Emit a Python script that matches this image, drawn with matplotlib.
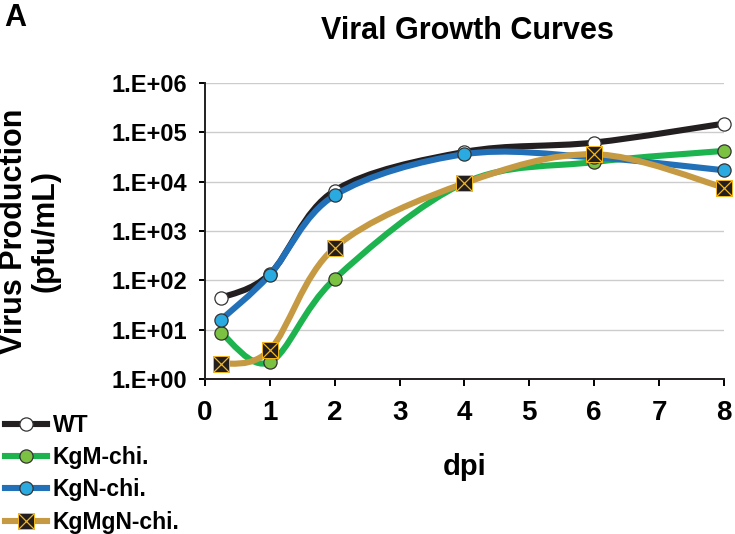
import numpy as np
import matplotlib
matplotlib.use('Agg')
import matplotlib.pyplot as plt
from matplotlib.path import Path
from matplotlib.patches import PathPatch
from matplotlib.lines import Line2D
from matplotlib.legend_handler import HandlerTuple
from matplotlib.ticker import FixedLocator, FuncFormatter

plt.rcParams['font.family'] = ['Liberation Sans', 'DejaVu Sans']
plt.rcParams['font.weight'] = 'bold'

# data (pfu/mL)
days = [0.25, 1, 2, 4, 6, 8]
wt = [44, 135, 6600, 40000, 62000, 150000]
kgm = [8.5, 2.2, 107, 9500, 25000, 42000]
kgn = [16, 130, 5300, 36000, 31000, 17000]
kgmgn = [2.0, 3.9, 460, 9300, 36000, 7600]

labels = ['WT', 'KgM-chi.', 'KgN-chi.', 'KgMgN-chi.']
series = [wt, kgm, kgn, kgmgn]
line_colors = ['#231f20', '#1db34f', '#2271b8', '#c59a42']
face_colors = ['#ffffff', '#7cc242', '#29abe2', '#231f20']
gold = '#f2b51d'


def smooth_path(xs, ys):
    # Excel style smoothed line: Catmull-Rom bezier in (x, log y)
    p = np.column_stack([xs, np.log10(ys)])
    pts = np.vstack([p[0], p, p[-1]])
    verts = [p[0]]
    codes = [Path.MOVETO]
    for i in range(1, len(pts) - 2):
        c1 = pts[i] + (pts[i + 1] - pts[i - 1]) / 6
        c2 = pts[i + 1] - (pts[i + 2] - pts[i]) / 6
        verts += [c1, c2, pts[i + 1]]
        codes += [Path.CURVE4] * 3
    verts = np.array(verts)
    verts[:, 1] = 10 ** verts[:, 1]
    return Path(verts, codes)


fig = plt.figure(figsize=(7.35, 5.34), dpi=100)
ax = fig.add_axes([0.2789, 0.2903, 0.7061, 0.5543])

lw = 4.4
handles = []
for k, (vals, lab) in enumerate(zip(series, labels)):
    z = 3 + k
    patch = PathPatch(smooth_path(days, vals), fill=False, ec=line_colors[k],
                      lw=lw, capstyle='round', joinstyle='round', zorder=z, clip_on=False)
    ax.add_patch(patch)
    if lab == 'KgMgN-chi.':
        ax.plot(days, vals, ls='none', marker='s', ms=12, mfc=face_colors[k],
                mec=gold, mew=0.7, zorder=z, clip_on=False)
        ax.plot(days, vals, ls='none', marker='x', ms=11, mec=gold,
                mew=0.9, zorder=z, clip_on=False)
        h1 = Line2D([], [], color=line_colors[k], lw=lw, marker='s', ms=12,
                    mfc=face_colors[k], mec=gold, mew=0.7)
        h2 = Line2D([], [], ls='none', marker='x', ms=11, mec=gold, mew=0.9)
        handles.append((h1, h2))
    else:
        ax.plot(days, vals, ls='none', marker='o', ms=9.5, mfc=face_colors[k],
                mec='#333333', mew=0.9, zorder=z, clip_on=False)
        handles.append(Line2D([], [], color=line_colors[k], lw=lw, marker='o', ms=9.5,
                              mfc=face_colors[k], mec='#333333', mew=0.9))

ax.set_yscale('log')
ax.set_ylim(1, 1e6)
ax.set_xlim(0, 8)
ax.yaxis.set_major_locator(FixedLocator([10.0 ** e for e in range(7)]))
ax.yaxis.set_minor_locator(FixedLocator([]))
ax.yaxis.set_major_formatter(FuncFormatter(lambda v, pos: '1.E+%02d' % int(round(np.log10(v)))))
ax.set_xticks(range(9))

ax.grid(axis='y', color='#cccccc', lw=1.0, zorder=0)
ax.set_axisbelow(True)
for s in ['top', 'right']:
    ax.spines[s].set_visible(False)
for s in ['left', 'bottom']:
    ax.spines[s].set_linewidth(1.4)
    ax.spines[s].set_color('#231f20')

ax.tick_params(axis='y', direction='out', length=4, width=1.4, pad=9, labelsize=17)
ax.tick_params(axis='x', direction='out', length=5, width=1.4, pad=10, labelsize=20)

fig.text(0.636, 1 - 31 / 534, 'Viral Growth Curves', ha='center', va='center', fontsize=22)
fig.text(0.006, 0.995, 'A', ha='left', va='top', fontsize=22)
fig.text(465 / 735, 1 - 467 / 534, 'dpi', ha='center', va='center', fontsize=21)
fig.text(30 / 735, 1 - 231 / 534, 'Virus Production\n(pfu/mL)', rotation=90,
         ha='center', va='center', multialignment='center', fontsize=22, linespacing=1.05)

fig.legend(handles, labels, loc='upper left', bbox_to_anchor=(0.0, 1 - 409 / 534),
           frameon=False, fontsize=16.5, handlelength=1.85, handletextpad=0.25,
           labelspacing=0.41, borderpad=0.2, borderaxespad=0,
           handler_map={tuple: HandlerTuple(ndivide=1)})

fig.savefig('out.png', dpi=100)
